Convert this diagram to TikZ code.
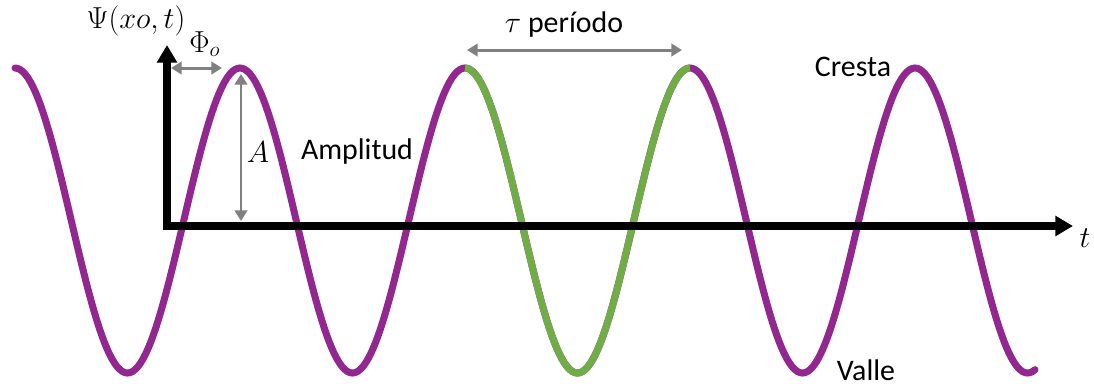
\documentclass[tikz,border=0pt]{standalone}
\usepackage{fontspec}
\setmainfont{Carlito}
\usetikzlibrary{arrows.meta}
\definecolor{wavepurple}{RGB}{146,39,143}
\definecolor{wavegreen}{RGB}{112,173,71}
\definecolor{dimgray}{RGB}{128,128,128}

\begin{document}
\begin{tikzpicture}[
        x=0.02cm, y=-0.02cm,
        every node/.style={font=\fontsize{17}{20}\selectfont, inner sep=0pt},
        wave/.style={line width=4pt, line cap=round},
        axis/.style={line width=4pt, {Triangle[width=11pt,length=10pt]}-{Triangle[width=11pt,length=10pt]}},
        dimarrow/.style={dimgray, line width=1.7pt, {Triangle[width=7pt,length=6pt]}-{Triangle[width=7pt,length=6pt]}}
    ]
        \useasboundingbox (0,0) rectangle (1094,387);

        \draw[wave, wavepurple] plot[domain=15:1035, samples=400] (\x, {220.5-152.5*cos(((\x-15)/225)*360)});
        \draw[wave, wavegreen, line cap=butt] plot[domain=465:690, samples=120] (\x, {220.5-152.5*cos(((\x-15)/225)*360)});

        \coordinate (yend) at (167,45);
        \coordinate (xend) at (1073,226);
        \draw[axis] (yend) |- (xend);

        \coordinate (phia) at (171,68);
        \coordinate (phib) at (222,68);
        \coordinate (ampa) at (241,74);
        \coordinate (ampb) at (241,221);
        \coordinate (taua) at (467,50);
        \coordinate (taub) at (682,50);
        \draw[dimarrow] (phia) -- (phib);
        \draw[dimarrow] (ampa) -- (ampb);
        \draw[dimarrow] (taua) -- (taub);

        \node (psi) at (136,21) {$\Psi(xo,t)$};
        \node (phi) at (205,44) {$\Phi_o$};
        \node (amp) at (258,152) {$A$};
        \node (ampl) at (357,152) {Amplitud};
        \node (tau) at (564,25) {$\tau$ período};
        \node (cresta) at (853,67) {Cresta};
        \node (valle) at (866,370) {Valle};
        \node (tlab) at (1085,238) {$t$};
    \end{tikzpicture}
\end{document}
